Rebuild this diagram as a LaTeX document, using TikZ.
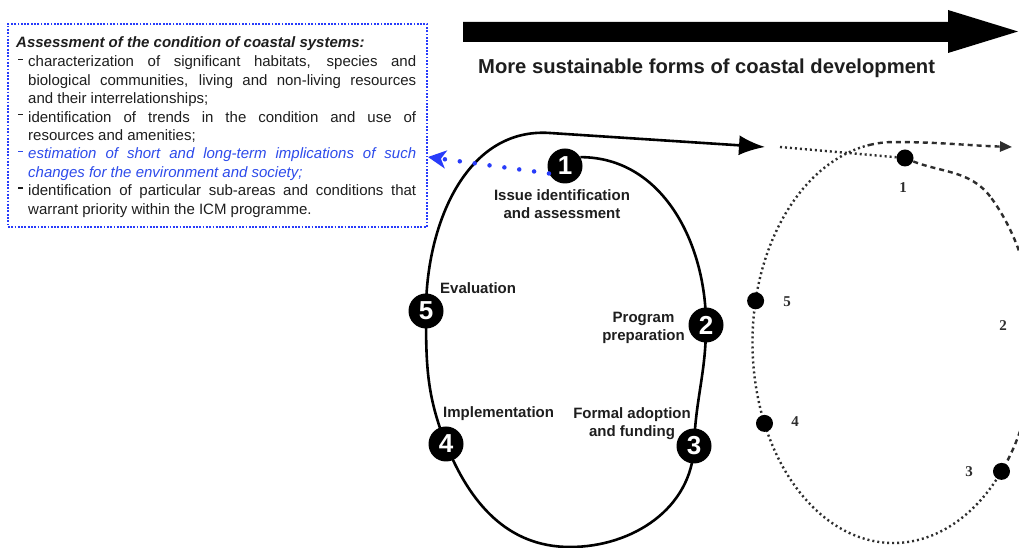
\documentclass[tikz,border=0pt]{standalone}
\usepackage{fontspec}
\setmainfont{Liberation Sans}
\newfontfamily\serifb{Liberation Serif}
\usetikzlibrary{arrows.meta}
\definecolor{boxblue}{RGB}{40,60,250}
\definecolor{txtblue}{RGB}{45,75,235}
\definecolor{rgray}{RGB}{45,45,45}
\definecolor{txtgray}{RGB}{30,30,30}
\pgfdeclarelayer{bg}
\pgfsetlayers{bg,main}
\newcommand\itm[1][txtgray]{\par\hangindent=12pt\hangafter=1\noindent\makebox[12pt][l]{\color{#1}\hspace{2pt}\rule[7pt]{5pt}{1.3pt}}}
\tikzset{
 num/.style={circle,fill=black,minimum size=35pt,inner sep=0pt,text=white,font=\fontsize{26}{26}\selectfont\bfseries},
 lbl/.style={font=\fontsize{15}{18}\selectfont\bfseries, inner sep=0pt, align=center, text=txtgray},
 rdot/.style={circle,fill=black,minimum size=17pt,inner sep=0pt},
 rlbl/.style={font=\serifb\fontsize{15}{15}\selectfont\bfseries, inner sep=0pt, text=rgray},
 loopline/.style={line width=2.6pt, black},
 rdotted/.style={rgray, line width=2.4pt, dash pattern=on 2pt off 3pt},
 rdashed/.style={rgray, line width=2.4pt, dash pattern=on 5pt off 4pt},
}
\begin{document}
\begin{tikzpicture}[x=1pt,y=1pt]
\useasboundingbox (0,0) rectangle (1019,548);
% big arrow
\fill[black] (463,526) -- (948,526) -- (948,538) -- (1018,516.5) -- (948,495) -- (948,506) -- (463,506) -- cycle;
\node[anchor=base west, inner sep=0pt, font=\fontsize{20.2}{22}\selectfont\bfseries, text=txtgray] (title) at (478,474) {More sustainable forms of coastal development};
% box
\node[draw=boxblue, line width=1.8pt, dash pattern=on 1.8pt off 1.5pt, minimum width=419pt, minimum height=203pt, anchor=north west, inner sep=0pt] (box) at (7,525) {};
\node[anchor=north west, inner sep=0pt, text width=400pt, align=justify, text=txtgray,
      font=\fontsize{15}{18.4}\selectfont] (txt) at (16,511.5) {%
\hyphenpenalty=10000\exhyphenpenalty=10000\tolerance=9999%
{\bfseries\itshape Assessment of the condition of coastal systems:}\par\vspace{1pt}%
\itm characterization of significant habitats, species and \linebreak biological communities, living and non-living resources \linebreak and their interrelationships;%
\itm identification of trends in the condition and use of \linebreak resources and amenities;%
\itm[txtblue]{\color{txtblue}\itshape estimation of short and long-term implications of such \linebreak changes for the environment and society;}%
\itm identification of particular sub-areas and conditions that \linebreak warrant priority within the ICM programme.\par};
% left cycle nodes
\node[num] (N1) at (565,382) {1};
\node[num] (N2) at (706,223) {2};
\node[num] (N3) at (694,102) {3};
\node[num] (N4) at (446,104) {4};
\node[num] (N5) at (426,237) {5};
\coordinate (Bot) at (570,1);
\coordinate (Top) at (550,415);
\coordinate (LEnd) at (765,401);
\node[lbl, anchor=base] (l1) at (562,329) {Issue identification\\and assessment};
\node[lbl, anchor=base west] (l5) at (440,254) {Evaluation};
\node[lbl, anchor=base] (l2) at (643.5,207.3) {Program\\preparation};
\node[lbl, anchor=base west] (l4) at (443,130) {Implementation};
\node[lbl, anchor=base] (l3) at (632,111.3) {Formal adoption\\and funding};
% blue arrow
\coordinate (btip) at (428,391);
\draw[boxblue, line width=4.5pt, line cap=round, dash pattern=on 0pt off 15pt,
      -{Stealth[length=18pt,width=18pt,inset=5pt]}] (N1.205) -- (btip);
% right cycle
\node[rdot] (D1) at (905,390) {};
\node[rdot] (D3) at (1001.5,76.6) {};
\node[rdot] (D4) at (764.5,124.6) {};
\node[rdot] (D5) at (755.6,247.2) {};
\coordinate (R1) at (991.5,349.7);
\coordinate (T100) at (869.0,402.9);
\coordinate (RIn) at (780,401);
\coordinate (REnd) at (1012,401);
\node[rlbl] (L1) at (903,360) {1};
\node[rlbl] (L2) at (1003,222) {2};
\node[rlbl] (L3) at (969,76) {3};
\node[rlbl] (L4) at (795,126) {4};
\node[rlbl] (L5) at (787,246) {5};
\begin{pgfonlayer}{bg}
\fill[white] (0,0) rectangle (1019,548);
\begin{scope}
\clip (0,0) rectangle (1019,548);
\draw[loopline, -{Latex[length=26pt,width=20pt]}]
  (N1.30) to[out=0,in=90] (N2.center) to[out=-90,in=88] (N3.center)
  to[out=-92,in=0] (Bot) to[out=180,in=-68] (N4.center)
  to[out=112,in=-90] (N5.center) to[out=90,in=176] (Top) -- (LEnd);
\draw[rdotted] (RIn) -- (D1.center);
\draw[rdashed] (D1.center) to[out=-25,in=126] (R1);
\draw[rdashed] (R1) arc[start angle=46,end angle=-40,x radius=141,y radius=200.5];
\draw[rdotted] (D3.center) arc[start angle=-40,end angle=-260,x radius=141,y radius=200.5];
\draw[rdashed, -{Triangle[length=12pt,width=10pt]}] (T100) arc[start angle=100,end angle=90,x radius=141,y radius=200.5] to[out=0,in=178] (REnd);
\end{scope}
\end{pgfonlayer}
\end{tikzpicture}
\end{document}
